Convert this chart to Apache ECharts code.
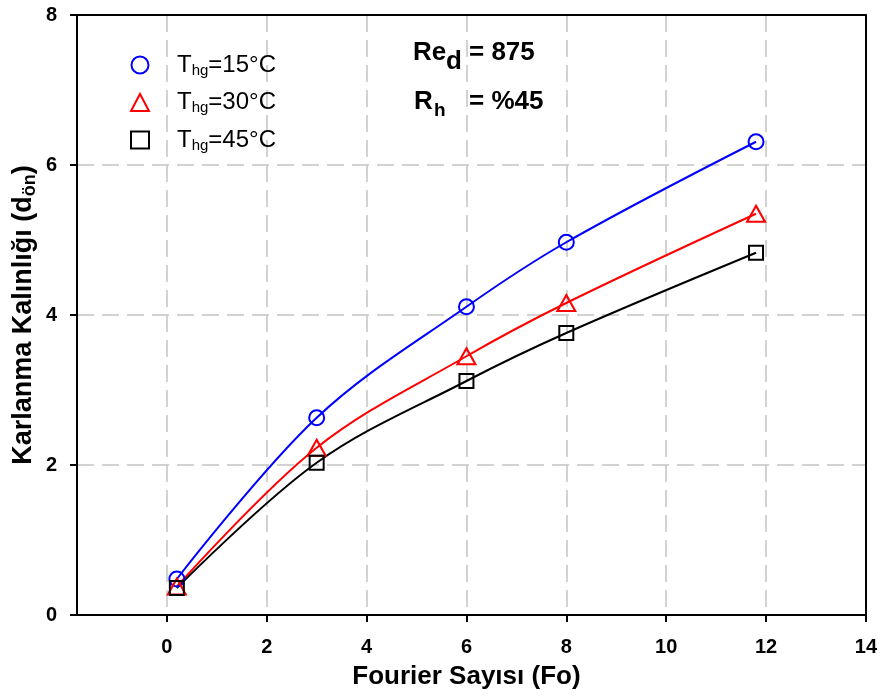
<!DOCTYPE html>
<html>
<head>
<meta charset="utf-8">
<script src="https://cdn.jsdelivr.net/npm/echarts@6/dist/echarts.min.js"></script>
<style>
  html, body { margin: 0; padding: 0; background: #fff; }
  #chart { width: 880px; height: 699px; }
</style>
</head>
<body>
<div id="chart"></div>
<script>
// Fourier number on the horizontal axis
const fourier = [0.2, 3, 6, 8, 11.8];
// Frost layer thickness for each cold-surface temperature
const thick15 = [0.48, 2.63, 4.11, 4.97, 6.31];
const thick30 = [0.38, 2.23, 3.45, 4.16, 5.35];
const thick45 = [0.36, 2.03, 3.12, 3.76, 4.83];
const tempLabels = ['15°C', '30°C', '45°C'];
const xTicks = [0, 2, 4, 6, 8, 10, 12, 14];
const yTicks = [0, 2, 4, 6, 8];

const FONT = '"Liberation Sans", Arial, sans-serif';
const colors = ['#0000ff', '#ff0000', '#000000'];
const symbols = ['circle', 'triangle', 'rect'];
const symbolSizes = [15, [18, 16], 14];
const seriesData = [thick15, thick30, thick45];

const pair = (xs, ys) => xs.map((x, i) => [x, ys[i]]);
const names = tempLabels.map(t => 'Thg=' + t);

const chart = echarts.init(document.getElementById('chart'), null, { renderer: 'canvas' });

const axisLineStyle = { color: '#000', width: 2 };
const gridLineStyle = { color: '#c4c4c4', width: 1.5, type: [17, 8] };

const option = {
  backgroundColor: '#fff',
  animation: false,
  grid: { left: 77, right: 14, top: 15, bottom: 84, containLabel: false },
  legend: {
    orient: 'vertical',
    left: 125,
    top: 48,
    itemWidth: 18,
    itemHeight: 17,
    itemGap: 12.5,
    symbolKeepAspect: true,
    selectedMode: false,
    data: names.map((n, i) => ({
      name: n,
      icon: symbols[i],
      itemStyle: { color: 'rgba(255,255,255,0)', borderColor: colors[i], borderWidth: 2 }
    })),
    formatter: name => {
      const t = tempLabels[names.indexOf(name)];
      return '{p| }{a|T}{s|hg}{a|=' + t + '}';
    },
    textStyle: {
      color: '#000',
      fontFamily: FONT,
      rich: {
        p: { width: 23, fontSize: 10 },
        a: { fontSize: 24, fontFamily: FONT, color: '#000', lineHeight: 26 },
        s: { fontSize: 15, fontFamily: FONT, color: '#000', lineHeight: 6, verticalAlign: 'bottom' }
      }
    }
  },
  xAxis: [{
    type: 'value',
    position: 'bottom',
    min: -1.8,
    max: 14,
    z: 2,
    name: 'Fourier Sayısı (Fo)',
    nameLocation: 'middle',
    nameGap: 49,
    nameTextStyle: { fontSize: 26, fontWeight: 'bold', fontFamily: FONT, color: '#000', padding: [0, 10, 0, 0] },
    axisLine: { show: true, onZero: false, lineStyle: axisLineStyle },
    axisTick: { show: true, customValues: xTicks, length: 7, lineStyle: axisLineStyle },
    axisLabel: {
      customValues: xTicks, margin: 22,
      fontSize: 20, fontWeight: 'bold', fontFamily: FONT, color: '#000'
    },
    splitLine: { show: true, lineStyle: gridLineStyle }
  }, {
    type: 'value',
    position: 'top',
    min: -1.8,
    max: 14,
    z: 3,
    axisLine: { show: true, onZero: false, lineStyle: axisLineStyle },
    axisTick: { show: false },
    axisLabel: { show: false },
    splitLine: { show: false }
  }],
  yAxis: [{
    type: 'value',
    position: 'left',
    min: 0,
    max: 8,
    interval: 2,
    z: 0,
    name: '{t|Karlanma Kalınlığı (d}{s|ön}{t|)}',
    nameLocation: 'middle',
    nameGap: 38,
    nameMoveOverlap: false,
    nameRotate: 90,
    nameTextStyle: {
      fontSize: 27, fontWeight: 'bold', fontFamily: FONT, color: '#000',
      rich: {
        t: { fontSize: 27, fontWeight: 'bold', fontFamily: FONT, color: '#000', lineHeight: 30 },
        s: { fontSize: 18, fontWeight: 'bold', fontFamily: FONT, color: '#000', lineHeight: 8, verticalAlign: 'bottom' }
      }
    },
    axisLine: { show: true, onZero: false, lineStyle: axisLineStyle },
    axisTick: { show: true, length: 7, lineStyle: axisLineStyle },
    axisLabel: {
      margin: 20,
      fontSize: 20, fontWeight: 'bold', fontFamily: FONT, color: '#000',
      formatter: v => (yTicks.indexOf(v) >= 0 ? String(v) : '')
    },
    splitLine: { show: true, lineStyle: gridLineStyle }
  }, {
    type: 'value',
    position: 'right',
    min: 0,
    max: 8,
    interval: 2,
    z: 3,
    axisLine: { show: true, onZero: false, lineStyle: axisLineStyle },
    axisTick: { show: false },
    axisLabel: { show: false },
    splitLine: { show: false }
  }],
  graphic: [
    { type: 'text', x: 413, y: 53, z: 10, style: { text: 'Re', fontSize: 26, fontWeight: 'bold', fontFamily: FONT, fill: '#000', verticalAlign: 'middle' } },
    { type: 'text', x: 446, y: 62, z: 10, style: { text: 'd', fontSize: 26, fontWeight: 'bold', fontFamily: FONT, fill: '#000', verticalAlign: 'middle' } },
    { type: 'text', x: 469, y: 53, z: 10, style: { text: '= 875', fontSize: 26, fontWeight: 'bold', fontFamily: FONT, fill: '#000', verticalAlign: 'middle' } },
    { type: 'text', x: 414, y: 102, z: 10, style: { text: 'R', fontSize: 26, fontWeight: 'bold', fontFamily: FONT, fill: '#000', verticalAlign: 'middle' } },
    { type: 'text', x: 434, y: 111, z: 10, style: { text: 'h', fontSize: 19, fontWeight: 'bold', fontFamily: FONT, fill: '#000', verticalAlign: 'middle' } },
    { type: 'text', x: 469, y: 102, z: 10, style: { text: '= %45', fontSize: 26, fontWeight: 'bold', fontFamily: FONT, fill: '#000', verticalAlign: 'middle' } }
  ],
  series: seriesData.map((ys, i) => ({
    name: names[i],
    type: 'line',
    xAxisIndex: 0,
    yAxisIndex: 0,
    z: 5,
    data: pair(fourier, ys),
    smooth: 0.35,
    symbol: symbols[i],
    symbolSize: symbolSizes[i],
    showAllSymbol: true,
    lineStyle: { color: colors[i], width: 2 },
    itemStyle: { color: 'rgba(255,255,255,0)', borderColor: colors[i], borderWidth: 2 },
    emphasis: { disabled: true }
  }))
};

chart.setOption(option);
</script>
</body>
</html>
